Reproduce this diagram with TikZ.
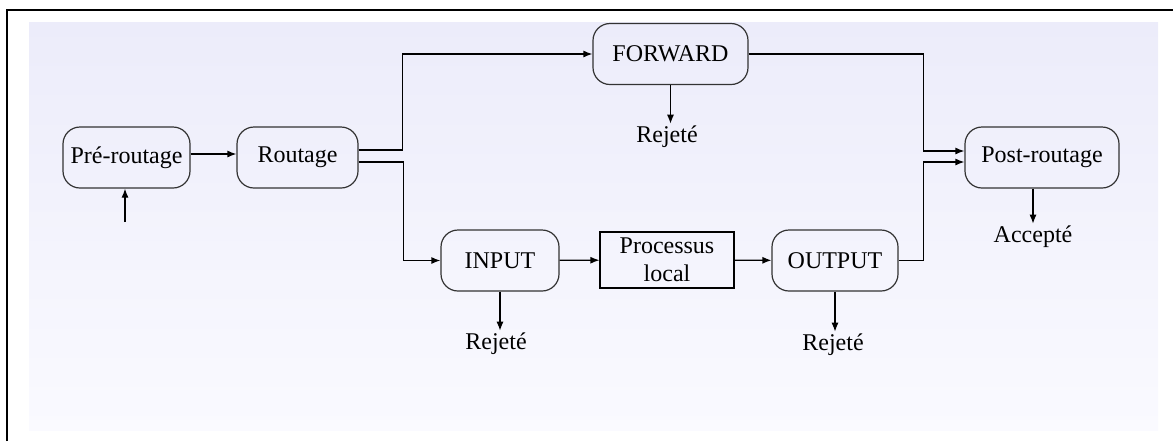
\documentclass[tikz,border=0pt]{standalone}
\usepackage{fontspec}
\setmainfont{Liberation Serif}
\usetikzlibrary{arrows.meta}
\definecolor{fondhaut}{RGB}{236,236,250}
\definecolor{fondbas}{RGB}{250,250,255}
\tikzset{
  chaine/.style={draw=black!80, line width=0.6pt, rounded corners=8.5pt, inner sep=1pt, minimum height=30.5pt},
  boite/.style={draw, line width=0.6pt, inner sep=1pt, align=center, minimum width=67pt, minimum height=28pt},
  fleche/.style={-{Latex[length=4.5pt,width=3.5pt]}, line width=0.6pt},
  verdict/.style={inner sep=1pt}
}
\begin{document}
\begin{tikzpicture}[x=5pt,y=5pt,font=\fontsize{12}{14}\selectfont]
\useasboundingbox (0,0) rectangle (117.3,-44.1);
% fond et cadre
\shade[top color=fondhaut, bottom color=fondbas] (2.9,-2.2) rectangle (115.8,-43.0);
\draw[line width=1pt] (0.7,-44.1) -- (0.7,-1.0) -- (117.3,-1.0);

% les chaines
\node[chaine, minimum width=63.5pt] (prerout) at (12.65,-15.75) {Pré-routage};
\node[chaine, minimum width=60.5pt] (routage) at (29.75,-15.75) {Routage};
\node[chaine, minimum width=77.5pt] (forward) at (67.05,-5.4) {FORWARD};
\node[chaine, minimum width=59pt] (input) at (50.0,-26.05) {INPUT};
\node[boite] (proc) at (66.7,-26.0) {Processus\\local};
\node[chaine, minimum width=63pt] (output) at (83.5,-26.05) {OUTPUT};
\node[chaine, minimum width=77pt] (postrout) at (104.2,-15.75) {Post-routage};

\node[verdict] (rejforward) at (66.7,-13.7) {Rejeté};
\node[verdict] (rejinput) at (49.6,-34.4) {Rejeté};
\node[verdict] (rejoutput) at (83.3,-34.5) {Rejeté};
\node[verdict] (accepte) at (103.3,-23.7) {Accepté};
\coordinate (entree) at (12.5,-22.2);

% les fleches
\draw[fleche] (entree) -- (entree |- prerout.south);
\draw[fleche] ([yshift=1.75pt]prerout.east) -- ([yshift=1.75pt]routage.west);
\draw[fleche] ([yshift=3.75pt]routage.east) -- ++(22pt,0) |- (forward.west);
\draw[fleche] ([yshift=-2.25pt]routage.east) -- ++(22.5pt,0) |- (input.west);
\draw[fleche] (input) -- (proc);
\draw[fleche] (proc) -- (output);
\draw[fleche] (forward.east) -- ++(87.5pt,0) |- ([yshift=3.25pt]postrout.west);
\draw[fleche] (output.east) -- ++(12.5pt,0) |- ([yshift=-2.25pt]postrout.west);
\draw[fleche] (forward.south) -- (forward.south |- rejforward.north);
\draw[fleche] (input.south) -- (input.south |- rejinput.north);
\draw[fleche] (output.south) -- (output.south |- rejoutput.north);
\draw[fleche] (accepte.north |- postrout.south) -- (accepte.north);
\end{tikzpicture}
\end{document}
